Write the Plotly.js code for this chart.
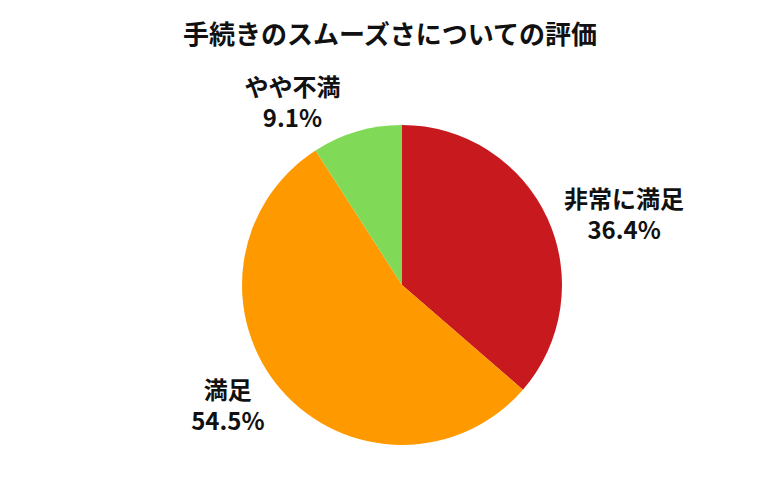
<!DOCTYPE html>
<html><head><meta charset="utf-8">
<script src="https://cdn.plot.ly/plotly-3.0.1.min.js"></script>
<style>html,body{margin:0;padding:0;background:#fff}</style>
</head><body>
<div id="chart" style="width:780px;height:500px"></div>
<script>
const labels = ["非常に満足", "満足", "やや不満"];
const values = [4, 6, 1];
const colors = ["#C8191E", "#FF9900", "#80DA58"];

const data = [{
  type: "pie",
  labels: labels,
  values: values,
  sort: false,
  direction: "clockwise",
  rotation: 0,
  marker: {colors: colors, line: {width: 0}},
  textposition: "outside",
  texttemplate: "<b>%{label}</b><br><b>%{percent:.1%}</b>",
  textfont: {family: "Noto Sans CJK JP", size: 24, color: "#111"},
  outsidetextfont: {family: "Noto Sans CJK JP", size: 24, color: "#111"},
  domain: {x: [0.3103, 0.7205], y: [0.11, 0.75]},
  hoverinfo: "none",
  showlegend: false
}];

const layout = {
  width: 780, height: 500,
  margin: {l: 0, r: 0, t: 0, b: 0},
  paper_bgcolor: "#fff",
  font: {family: "Noto Sans CJK JP", color: "#111"},
  title: {text: "<b>手続きのスムーズさについての評価</b>", x: 0.5, xanchor: "center", y: 0.93, yanchor: "middle",
          font: {family: "Noto Sans CJK JP", size: 26, color: "#111"}},
  showlegend: false
};
Plotly.newPlot("chart", data, layout, {displayModeBar: false});
</script>
</body></html>
